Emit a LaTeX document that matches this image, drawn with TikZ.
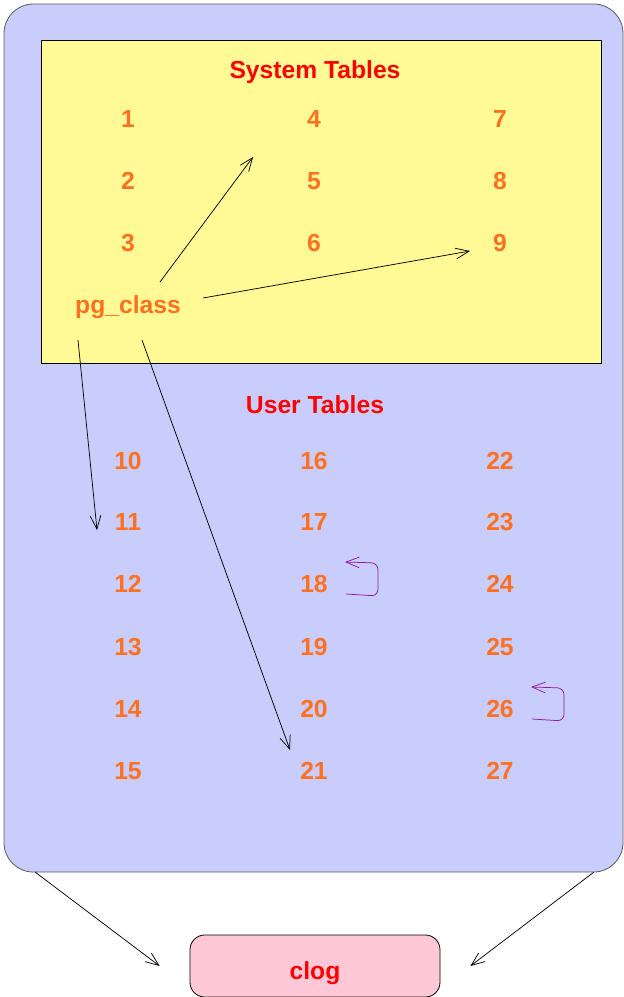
\documentclass[tikz,border=0pt]{standalone}
\usepackage{fontspec}
\setmainfont{Liberation Sans}
\usetikzlibrary{arrows.meta,calc}

\definecolor{userbg}{RGB}{200,205,251}
\definecolor{sysbg}{RGB}{255,250,150}
\definecolor{clogbg}{RGB}{255,200,215}
\definecolor{numorange}{RGB}{255,112,32}
\definecolor{loopviolet}{RGB}{150,20,160}
\definecolor{rimgray}{RGB}{90,90,100}

\tikzset{
  tbl/.style={text=numorange, font=\bfseries\fontsize{18.5}{22}\selectfont, inner sep=0pt},
  ttl/.style={tbl, text=red, text depth=0pt},
  link/.style={-{Straight Barb[length=10pt,width=8pt]}, line width=0.55pt},
  selflink/.style={link, draw=loopviolet, rounded corners=5pt}
}

\begin{document}
\begin{tikzpicture}[x=0.75pt,y=-0.75pt]
        \useasboundingbox (0,0) rectangle (624,997);
        % outer box and system box
        \draw[draw=rimgray, fill=userbg, line width=0.6pt, rounded corners=22pt] (4,4) rectangle (623,872);
        \draw[fill=sysbg, line width=0.6pt] (41,40) rectangle (601,363);
        \node[ttl] (systitle) at (315,70) {System Tables};
        \node[ttl] (usertitle) at (315,405) {User Tables};
        % table numbers
        \foreach \col/\xx in {0/128,1/314,2/500} {
            \foreach \row/\yy in {0/119,1/181,2/243} {
                \pgfmathparse{int(\col*3+\row+1)}
                \edef\num{\pgfmathresult}
                \node[tbl] (t\num) at (\xx,\yy) {\num};
            }
            \foreach \row/\yy in {0/461,1/522,2/584,3/647,4/709,5/771} {
                \pgfmathparse{int(\col*6+\row+10)}
                \edef\num{\pgfmathresult}
                \node[tbl] (t\num) at (\xx,\yy) {\num};
            }
        }
        \node[tbl, text depth=0pt] (pg) at (128,305) {pg\_class};
        \node[ttl, draw=black, fill=clogbg, line width=0.6pt, rounded corners=11pt,
              text height=19.5pt, minimum width=187.5pt, minimum height=46.5pt] (clog) at (315,966) {clog};
        % pg_class links
        \coordinate (pgne) at ($(pg)+(32,-23)$);
        \coordinate (pge) at ($(pg)+(75,-7)$);
        \coordinate (pgsw) at ($(pg)+(-50,35)$);
        \coordinate (pgs) at ($(pg)+(14,35)$);
        \coordinate (near4) at ($(t4)+(-61,38)$);
        \coordinate (near9) at ($(t9)+(-30,8)$);
        \coordinate (near11) at ($(t11)+(-31,8)$);
        \coordinate (near21) at ($(t21)+(-24,-21)$);
        \draw[link] (pgne) -- (near4);
        \draw[link] (pge) -- (near9);
        \draw[link] (pgsw) -- (near11);
        \draw[link] (pgs) -- (near21);
        % links to clog
        \coordinate (userl) at (35,872);
        \coordinate (userr) at (594,872);
        \draw[link] (userl) -- ($(clog.west)+(-30,0)$);
        \draw[link] (userr) -- ($(clog.east)+(30,0)$);
        % self references
        \foreach \t in {18,26} {
            \draw[selflink] ($(t\t)+(32,10)$) -- ($(t\t)+(64,12)$) -- ($(t\t)+(64,-21)$) -- ($(t\t)+(31,-22)$);
        }
\end{tikzpicture}
\end{document}
